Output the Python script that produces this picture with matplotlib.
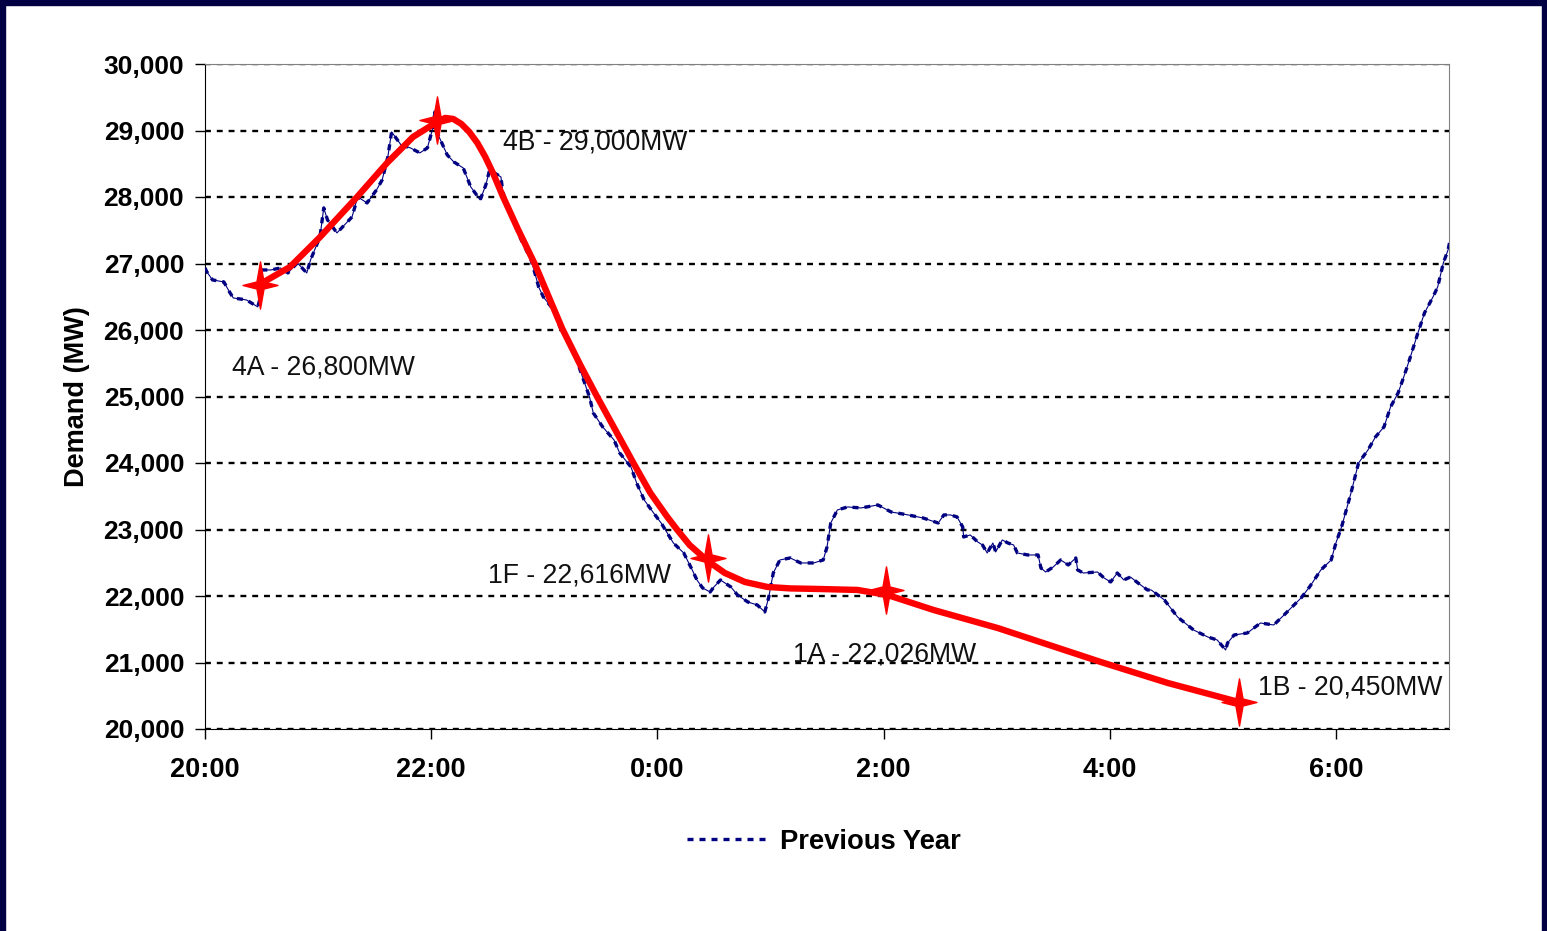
import matplotlib
matplotlib.use("Agg")
import matplotlib.pyplot as plt
from matplotlib.path import Path
from matplotlib.patches import Rectangle
from matplotlib.ticker import FuncFormatter

plt.rcParams['font.family'] = ['Liberation Sans', 'DejaVu Sans']

# Previous Year (minutes after 20:00, MW)
prev_min = [0, 1, 4, 10, 13, 15, 22, 28, 29, 30, 35, 40, 44, 49, 54, 56, 61, 63, 65, 70,
            75, 78, 81, 86, 91, 94, 97, 99, 104, 109, 114, 118, 121, 122, 123, 128.5, 132, 137, 141, 146,
            149, 151, 157, 158, 162, 167, 173, 175, 177, 179.5, 185, 188.5, 195, 199, 204, 206, 211, 217, 220, 226,
            229, 233, 238, 242, 248.5, 254, 258.5, 261, 264, 268, 270, 273.5, 279, 282.5, 288, 293, 297, 299, 301.5, 305,
            310.5, 316, 323, 328, 330, 332, 335.5, 341, 348, 357, 364, 373, 381, 389, 392, 395.5, 399, 402, 402.5, 406,
            410, 412.5, 415, 418, 419.5, 423, 426, 429, 431, 436.5, 442, 443.5, 446, 450, 454, 458, 462, 463, 466, 473.5,
            477, 480.5, 484, 487.5, 491, 495, 500, 502, 509, 516, 524.5, 532, 537, 541.5, 542.5, 546, 553, 560, 567, 572.5,
            581.5, 586, 592, 597.5, 600, 603, 608, 612, 617, 621, 625.5, 629, 633, 636, 639, 643.5, 647, 651.5, 654, 657,
            659.5, 662]
prev_mw = [26933, 26873, 26753, 26723, 26572, 26482, 26452, 26347, 26452, 26903, 26903, 26933, 26858, 27009, 26858, 27054, 27400, 27836, 27655, 27460,
           27610, 27700, 28001, 27911, 28107, 28257, 28603, 28979, 28783, 28738, 28663, 28738, 29054, 29280, 28979, 28633, 28528, 28437, 28152, 27956,
           28182, 28407, 28302, 28076, 27761, 27400, 27054, 26858, 26648, 26497, 26302, 26031, 25745, 25399, 24993, 24753, 24542, 24347, 24151, 23940,
           23700, 23444, 23249, 23098, 22797, 22647, 22391, 22241, 22121, 22060, 22136, 22241, 22136, 22015, 21910, 21865, 21760, 21970, 22346, 22542,
           22572, 22497, 22497, 22542, 22737, 23098, 23294, 23339, 23324, 23369, 23264, 23219, 23173, 23098, 23219, 23219, 23189, 23038, 22888, 22918,
           22812, 22767, 22647, 22797, 22662, 22843, 22797, 22767, 22647, 22617, 22617, 22421, 22361, 22436, 22542, 22467, 22572, 22391, 22346, 22361,
           22271, 22211, 22346, 22241, 22286, 22196, 22091, 22091, 21940, 21684, 21489, 21384, 21339, 21188, 21293, 21414, 21444, 21594, 21564, 21715,
           21970, 22136, 22391, 22542, 22797, 23038, 23549, 24000, 24196, 24392, 24542, 24843, 25053, 25294, 25550, 25956, 26257, 26497, 26648, 27009,
           27204, 27550]

# forecast curve (red)
fc_min = [30.3, 45.1, 61.1, 80.7, 96.6, 110.4, 118.0, 123.2, 127.4, 131.7, 136.0, 140.2, 144.5, 148.7, 153.0, 157.7,
          166.2, 175.2, 189.6, 199.1, 208.1, 217.7, 227.3, 236.3, 245.3, 250.6, 257.1, 266.7, 275.8, 286.4, 298.4,
          310.6, 325.0, 346.2, 362.1, 386.5, 420.5, 475.2, 510.8, 548.5]
fc_mw = [26708, 26948, 27400, 28001, 28513, 28904, 29038, 29129, 29189, 29174, 29099, 28979, 28813, 28603, 28347, 28031,
         27505, 26979, 26016, 25475, 24993, 24497, 24000, 23549, 23188, 22993, 22767, 22527, 22346, 22211, 22136,
         22114, 22106, 22091, 22015, 21790, 21519, 21008, 20692, 20406]

# marked points
pt_min = [29.2, 123.2, 267.1, 361.1, 548.5]
pt_mw = [26678, 29159, 22572, 22091, 20406]
pt_labels = ["4A - 26,800MW", "4B - 29,000MW", "1F - 22,616MW", "1A - 22,026MW", "1B - 20,450MW"]
lbl_min = [14.3, 158.2, 150.3, 312.2, 558.6]
lbl_mw = [25429, 28813, 22301, 21113, 20617]

xtick_min = [0, 120, 240, 360, 480, 600]
xtick_lbl = ["20:00", "22:00", "0:00", "2:00", "4:00", "6:00"]

fig = plt.figure(figsize=(15.47, 9.31), dpi=100)
fig.patch.set_facecolor('white')
ax = fig.add_axes([205/1547, 1-729/931, (1449-205)/1547, (729-64)/931])

# estrella de 4 puntas
star = Path([(0, 1), (0.15, 0.15), (0.74, 0), (0.15, -0.15), (0, -1), (-0.15, -0.15), (-0.74, 0), (-0.15, 0.15), (0, 1)],
            [Path.MOVETO] + [Path.LINETO]*7 + [Path.CLOSEPOLY])

ax.plot(prev_min, prev_mw, color='#000080', lw=0.8, zorder=2)
line_prev, = ax.plot(prev_min, prev_mw, color='#000080', lw=2.4, dashes=(1.8, 1.8), zorder=3,
                     label='Previous Year')
ax.plot(fc_min, fc_mw, color='#ff0000', lw=4.6, solid_joinstyle='round', solid_capstyle='round', zorder=4)
ax.plot(pt_min, pt_mw, ls='none', marker=star, markersize=34, color='#ff0000', mec='#ff0000', zorder=5)

for x, y, s in zip(lbl_min, lbl_mw, pt_labels):
    ax.text(x, y, s, fontsize=19.2, ha='left', va='center', color='#111111', zorder=6)

ax.set_xlim(0, 660)
ax.set_ylim(20000, 30000)
ax.set_xticks(xtick_min)
ax.set_xticklabels(xtick_lbl)
ax.set_yticks(range(20000, 30001, 1000))
ax.yaxis.set_major_formatter(FuncFormatter(lambda v, p: f"{int(v):,}"))
ax.tick_params(axis='both', direction='out', length=7, width=1)
ax.tick_params(axis='x', pad=13, labelsize=19.5)
ax.tick_params(axis='y', pad=8, labelsize=19)
for lab in ax.get_xticklabels() + ax.get_yticklabels():
    lab.set_fontweight('bold')

ax.yaxis.grid(True, color='black', linestyle=(0, (2.5, 2.5)), linewidth=1.7)
ax.set_axisbelow(True)
ax.spines['left'].set_color('black')
ax.spines['bottom'].set_color('black')
ax.spines['top'].set_color('#808080')
ax.spines['right'].set_color('#808080')

ax.set_ylabel("Demand (MW)", fontsize=19.5, fontweight='bold', labelpad=10)

fig.legend(handles=[line_prev], loc='center', bbox_to_anchor=(824/1547, 1-842/931), frameon=False,
           prop={'size': 19.7, 'weight': 'bold'}, handlelength=2.95, handletextpad=0.45)

# marco azul oscuro
navy = '#000042'
fig.add_artist(Rectangle((0, 0), 5/1547, 1, transform=fig.transFigure, color=navy, zorder=10))
fig.add_artist(Rectangle((0, 1-5/931), 1, 5/931, transform=fig.transFigure, color=navy, zorder=10))
fig.add_artist(Rectangle((1542/1547, 0), 5/1547, 1, transform=fig.transFigure, color=navy, zorder=10))

fig.savefig("out.png", dpi=100)
